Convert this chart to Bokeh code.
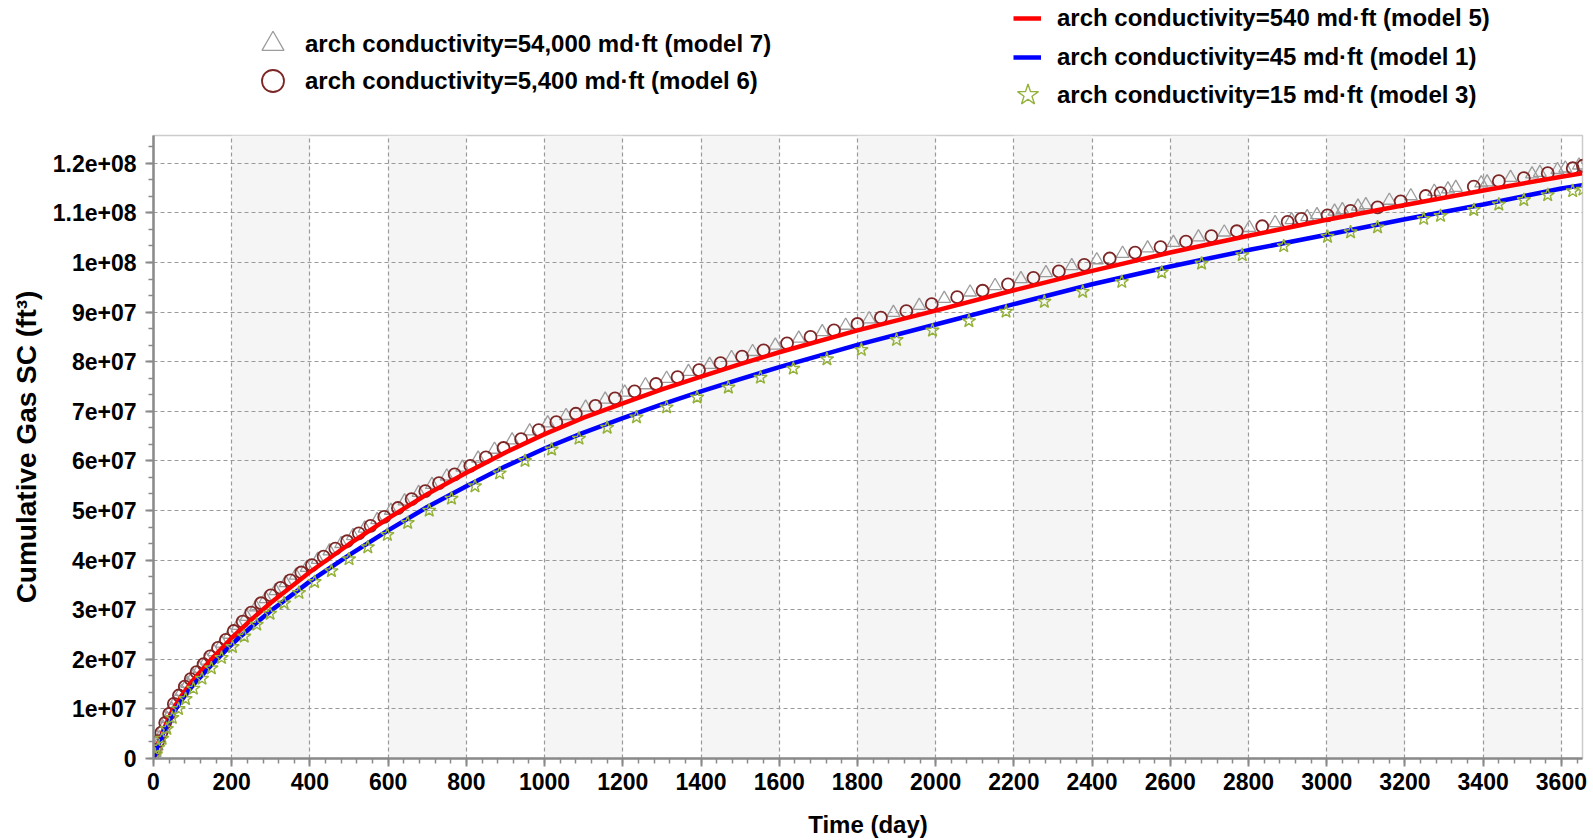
from bokeh.plotting import figure
from bokeh.layouts import column
from bokeh.models import (FixedTicker, CustomJSTickFormatter, Legend, LegendItem,
                          Range1d, ColumnDataSource)
from bokeh.embed import file_html
from bokeh.resources import INLINE

FONT = "Liberation Sans"
SCALE = 1e7  # values below are in units of 1e7 ft^3

# ---- model 5 (540 md.ft) red line ----
red_days = [0, 10, 25, 50, 75, 100, 150, 200, 250, 300, 400, 500, 600, 700, 800,
            900, 1000, 1100, 1200, 1300, 1400, 1500, 1600, 1800, 2000, 2200, 2400,
            2600, 2800, 3000, 3200, 3400, 3600, 3653]
red_vals = [0, 0.26, 0.57, 1.0, 1.3, 1.57, 2.02, 2.43, 2.8, 3.14, 3.76, 4.32, 4.84,
            5.33, 5.76, 6.17, 6.54, 6.87, 7.16, 7.44, 7.70, 7.95, 8.19, 8.63, 9.03,
            9.44, 9.83, 10.2, 10.54, 10.86, 11.16, 11.45, 11.73, 11.8]

# ---- model 1 (45 md.ft) blue line ----
blue_days = [0, 10, 25, 50, 75, 100, 150, 200, 250, 300, 400, 500, 600, 700, 800,
             900, 1000, 1100, 1200, 1300, 1400, 1500, 1600, 1800, 2000, 2200, 2400,
             2600, 2800, 3000, 3200, 3400, 3600, 3653]
blue_vals = [0, 0.23, 0.52, 0.92, 1.21, 1.47, 1.9, 2.3, 2.65, 2.98, 3.57, 4.1, 4.6,
             5.07, 5.49, 5.89, 6.25, 6.57, 6.86, 7.14, 7.4, 7.65, 7.89, 8.34, 8.75,
             9.16, 9.56, 9.92, 10.25, 10.56, 10.87, 11.17, 11.49, 11.56]

# ---- model 7 (54,000 md.ft) triangles ----
tri_days = [3, 8, 15, 25, 35, 46, 58, 72, 87, 102, 118, 136, 155, 175, 195, 216,
            238, 262, 287, 312, 338, 364, 392, 420, 450, 480, 510, 540, 572, 607,
            642, 678, 712, 750, 790, 830, 872, 917, 962, 1008, 1055, 1105, 1155,
            1205, 1258, 1312, 1368, 1422, 1478, 1532, 1590, 1650, 1710, 1770,
            1830, 1892, 1958, 2022, 2088, 2152, 2218, 2282, 2348, 2412, 2478,
            2542, 2608, 2672, 2738, 2802, 2868, 2910, 2950, 2975, 3020, 3040,
            3080, 3100, 3160, 3215, 3275, 3310, 3330, 3395, 3410, 3470, 3525,
            3545, 3590, 3610, 3645]
tri_vals = [0.12, 0.25, 0.41, 0.62, 0.8, 1.0, 1.17, 1.35, 1.51, 1.66, 1.81, 1.98,
            2.15, 2.32, 2.5, 2.68, 2.86, 3.05, 3.22, 3.38, 3.54, 3.69, 3.85, 4.01,
            4.18, 4.33, 4.49, 4.64, 4.81, 5.0, 5.19, 5.36, 5.52, 5.69, 5.87, 6.05,
            6.23, 6.42, 6.6, 6.76, 6.91, 7.08, 7.24, 7.38, 7.53, 7.66, 7.8, 7.94,
            8.08, 8.2, 8.33, 8.47, 8.6, 8.73, 8.86, 8.99, 9.13, 9.27, 9.4, 9.53,
            9.67, 9.79, 9.93, 10.05, 10.18, 10.29, 10.4, 10.51, 10.61, 10.7,
            10.8, 10.86, 10.92, 10.96, 11.03, 11.06, 11.13, 11.16, 11.25, 11.34,
            11.43, 11.48, 11.51, 11.6, 11.62, 11.71, 11.78, 11.81, 11.87, 11.9,
            11.96]

# ---- model 6 (5,400 md.ft) circles ----
circ_days = [5, 12, 20, 30, 40, 52, 65, 80, 95, 110, 128, 145, 165, 185, 205, 228,
             250, 275, 300, 325, 350, 378, 405, 435, 465, 495, 525, 555, 590, 625,
             660, 695, 730, 770, 810, 850, 895, 940, 985, 1030, 1080, 1130, 1180,
             1230, 1285, 1340, 1395, 1450, 1505, 1560, 1620, 1680, 1740, 1800,
             1860, 1925, 1990, 2055, 2120, 2185, 2250, 2315, 2380, 2445, 2510,
             2575, 2640, 2705, 2770, 2835, 2900, 2935, 3002, 3061, 3130, 3189,
             3253, 3291, 3376, 3440, 3504, 3565, 3629, 3655]
circ_vals = [0.18, 0.35, 0.52, 0.72, 0.9, 1.1, 1.27, 1.45, 1.6, 1.74, 1.9, 2.06,
             2.23, 2.39, 2.57, 2.76, 2.94, 3.13, 3.29, 3.44, 3.59, 3.75, 3.9,
             4.07, 4.23, 4.38, 4.54, 4.69, 4.87, 5.05, 5.23, 5.39, 5.55, 5.73,
             5.9, 6.07, 6.26, 6.44, 6.62, 6.78, 6.95, 7.11, 7.26, 7.4, 7.55, 7.69,
             7.83, 7.97, 8.1, 8.23, 8.37, 8.5, 8.63, 8.76, 8.89, 9.02, 9.16, 9.3,
             9.43, 9.56, 9.69, 9.82, 9.95, 10.08, 10.2, 10.31, 10.42, 10.53,
             10.63, 10.73, 10.82, 10.88, 10.95, 11.04, 11.11, 11.23, 11.34, 11.4,
             11.53, 11.64, 11.7, 11.8, 11.9, 11.95]

# ---- model 3 (15 md.ft) stars ----
star_days = [4, 12, 22, 34, 48, 64, 82, 102, 124, 148, 174, 202, 232, 264, 298,
             334, 372, 412, 455, 500, 548, 598, 650, 705, 762, 822, 885, 950,
             1018, 1088, 1160, 1235, 1312, 1390, 1470, 1552, 1636, 1722, 1810,
             1900, 1992, 2085, 2180, 2278, 2376, 2476, 2578, 2680, 2784, 2890,
             3002, 3061, 3130, 3248, 3291, 3376, 3440, 3504, 3565, 3629, 3655]
star_vals = [0.06, 0.22, 0.4, 0.6, 0.82, 1.0, 1.2, 1.41, 1.61, 1.82, 2.03, 2.25,
             2.46, 2.7, 2.92, 3.13, 3.34, 3.56, 3.78, 4.02, 4.26, 4.51, 4.75,
             5.0, 5.24, 5.49, 5.75, 6.0, 6.23, 6.45, 6.67, 6.88, 7.08, 7.28, 7.48,
             7.68, 7.86, 8.05, 8.24, 8.44, 8.63, 8.82, 9.01, 9.21, 9.41, 9.61,
             9.8, 9.98, 10.15, 10.33, 10.52, 10.61, 10.71, 10.88, 10.94, 11.06,
             11.17, 11.26, 11.36, 11.44, 11.47]

x_ticks = list(range(0, 3601, 200))
x_minor = list(range(0, 3655, 40))
y_ticks = [0, 1e7, 2e7, 3e7, 4e7, 5e7, 6e7, 7e7, 8e7, 9e7, 1e8, 1.1e8, 1.2e8]
y_tick_labels = ["0", "1e+07", "2e+07", "3e+07", "4e+07", "5e+07", "6e+07",
                 "7e+07", "8e+07", "9e+07", "1e+08", "1.1e+08", "1.2e+08"]
y_minor = [i * 1e7 / 3 for i in range(0, 38)]

labels = {
    "m7": "arch conductivity=54,000 md·ft (model 7)",
    "m6": "arch conductivity=5,400 md·ft (model 6)",
    "m5": "arch conductivity=540 md·ft (model 5)",
    "m1": "arch conductivity=45 md·ft (model 1)",
    "m3": "arch conductivity=15 md·ft (model 3)",
}

STY = {
    "tri": dict(marker="triangle", fill_color=None, line_color="#9c9c9c", line_width=1.3),
    "circ": dict(marker="circle", fill_color=None, line_color="#7d2626", line_width=1.8),
    "star": dict(marker="star", fill_color=None, line_color="#94b13a", line_width=1.4),
    "red": dict(line_color="#ff0000", line_width=4.5),
    "blue": dict(line_color="#0000ff", line_width=4.5),
}

def src(days, vals):
    return ColumnDataSource(dict(x=days, y=[v * SCALE for v in vals]))

s_tri = src(tri_days, tri_vals)
s_circ = src(circ_days, circ_vals)
s_red = src(red_days, red_vals)
s_blue = src(blue_days, blue_vals)
s_star = src(star_days, star_vals)

# ================= main plot =================
p = figure(width=1593, height=710, output_backend="svg", toolbar_location=None,
           x_range=Range1d(0, 3654), y_range=Range1d(0, 1.256e8),
           min_border_left=153, min_border_right=11, min_border_top=5,
           min_border_bottom=81)
p.background_fill_color = "white"
p.border_fill_color = "white"
p.outline_line_color = "#cccccc"
p.outline_line_width = 1.5

for ax in (p.xaxis[0], p.yaxis[0]):
    ax.axis_line_color = "#8a8a8a"
    ax.axis_line_width = 2.5
    ax.major_tick_line_color = "#8a8a8a"
    ax.major_tick_line_width = 2
    ax.minor_tick_line_color = "#8a8a8a"
    ax.minor_tick_line_width = 1.5
    ax.major_tick_in = 0
    ax.major_tick_out = 8
    ax.minor_tick_in = 0
    ax.minor_tick_out = 5
    ax.major_label_text_font = FONT
    ax.major_label_text_font_size = "23px"
    ax.major_label_text_font_style = "bold"
    ax.major_label_text_color = "black"
    ax.axis_label_text_font = FONT
    ax.axis_label_text_font_style = "bold"
    ax.axis_label_text_color = "black"

p.xaxis.ticker = FixedTicker(ticks=x_ticks, minor_ticks=x_minor)
p.yaxis.ticker = FixedTicker(ticks=y_ticks, minor_ticks=y_minor)
p.yaxis.formatter = CustomJSTickFormatter(
    args=dict(tv=y_ticks, tl=y_tick_labels),
    code="for (let i = 0; i < tv.length; i++) { if (Math.abs(tv[i] - tick) < 1) return tl[i]; } return '';")
p.xaxis.major_label_standoff = 6
p.yaxis.major_label_standoff = 9
p.xaxis.axis_label = "Time (day)"
p.yaxis.axis_label = "Cumulative Gas SC (ft³)"
p.xaxis.axis_label_text_font_size = "24px"
p.yaxis.axis_label_text_font_size = "28px"
p.xaxis.axis_label_standoff = 18
p.yaxis.axis_label_standoff = 8

for g in (p.xgrid[0], p.ygrid[0]):
    g.grid_line_color = "#9a9a9a"
    g.grid_line_dash = "4 3"
    g.grid_line_width = 1.2
p.xgrid.band_fill_color = "#f5f5f5"
p.xgrid.band_fill_alpha = 1.0

p.scatter("x", "y", source=s_tri, size=13, **STY["tri"])
p.scatter("x", "y", source=s_circ, size=12, **STY["circ"])
p.line("x", "y", source=s_red, **STY["red"])
p.line("x", "y", source=s_blue, **STY["blue"])
p.scatter("x", "y", source=s_star, size=14, **STY["star"])

# ================= legend strip above the plot =================
# the strip's ranges are chosen so that the data itself falls outside it;
# only the legend (placed in screen pixels) is visible there.
top = figure(width=1593, height=130, output_backend="svg", toolbar_location=None,
             x_range=Range1d(-5000, -3400), y_range=Range1d(-2e9, -1e9),
             x_axis_location=None, y_axis_location=None,
             min_border_left=0, min_border_right=0, min_border_top=0,
             min_border_bottom=0)
top.grid.visible = False
top.outline_line_color = None
top.background_fill_color = "white"
top.border_fill_color = "white"

g_tri = top.scatter("x", "y", source=s_tri, size=13, **STY["tri"])
g_circ = top.scatter("x", "y", source=s_circ, size=12, **STY["circ"])
g_red = top.line("x", "y", source=s_red, **STY["red"])
g_blue = top.line("x", "y", source=s_blue, **STY["blue"])
g_star = top.scatter("x", "y", source=s_star, size=14, **STY["star"])

X0 = 153  # the strip's frame is aligned with the main plot's frame

def make_legend(items, loc, gw, gh, spacing, standoff):
    lg = Legend(items=items, location=(loc[0] - X0, loc[1]), glyph_width=gw,
                glyph_height=gh, label_height=gh, spacing=spacing,
                label_standoff=standoff, padding=0, margin=0,
                background_fill_alpha=0, border_line_alpha=0,
                label_text_font=FONT, label_text_font_size="24px",
                label_text_font_style="bold", label_text_color="black")
    top.add_layout(lg)
    return lg

make_legend([LegendItem(label=labels["m7"], renderers=[g_tri])], (245, 59), 55, 55, 0, 5)
make_legend([LegendItem(label=labels["m6"], renderers=[g_circ])], (245, 22), 55, 55, 0, 5)
make_legend([LegendItem(label=labels["m5"], renderers=[g_red]),
             LegendItem(label=labels["m1"], renderers=[g_blue])],
            (1013, 58), 28, 30, 9, 16)
make_legend([LegendItem(label=labels["m3"], renderers=[g_star])], (1000, 8), 55, 55, 0, 2)

layout = column(top, p, spacing=0)
open("out.html", "w").write(file_html(layout, INLINE))
